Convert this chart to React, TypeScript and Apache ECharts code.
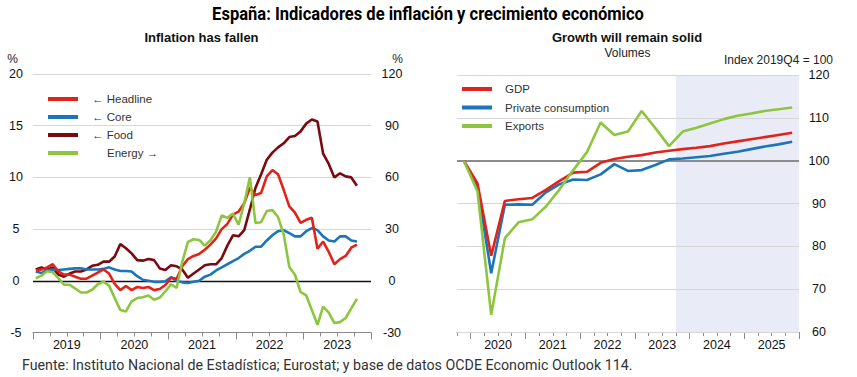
import React, { useEffect, useRef } from "react";
import * as echarts from "echarts";

// ---------- Left panel: inflation (monthly, Jan 2019 - Oct 2023) ----------
const inflationYears = ["2019", "2020", "2021", "2022", "2023"];
const headline = [
  1.0, 1.1, 1.3, 1.6, 0.9, 0.6, 0.6, 0.4, 0.2, 0.2, 0.5, 0.8,
  1.1, 0.7, -0.3, -0.9, -0.5, -0.9, -0.6, -0.7, -0.6, -0.9, -0.8, -0.4,
  0.3, 0.2, 1.4, 2.1, 2.4, 2.6, 3.0, 3.5, 4.1, 5.0, 5.5, 6.4,
  6.7, 7.5, 9.0, 8.3, 8.5, 10.1, 10.7, 10.3, 8.8, 7.2, 6.6, 5.6,
  5.9, 6.1, 3.1, 3.8, 2.8, 1.6, 2.1, 2.4, 3.2, 3.5,
];
const core = [
  0.9, 0.75, 1.05, 1.1, 1.05, 1.1, 1.15, 1.2, 1.2, 1.1, 1.1, 1.1,
  1.15, 1.3, 1.1, 0.95, 0.95, 0.9, 0.45, 0.1, 0.0, -0.1, -0.1, -0.05,
  0.35, 0.0, -0.15, -0.2, -0.1, 0.0, 0.4, 0.6, 1.0, 1.3, 1.6, 1.9,
  2.2, 2.6, 2.9, 3.3, 3.3, 3.9, 4.4, 4.8, 4.9, 4.6, 4.3, 4.3,
  4.8, 5.1, 4.9, 4.3, 3.9, 3.8, 4.3, 4.3, 3.9, 3.8,
];
const food = [
  1.1, 1.3, 1.1, 1.3, 0.6, 0.4, 0.7, 0.9, 0.9, 1.1, 1.45, 1.55,
  1.85, 1.85, 2.35, 3.55, 3.15, 2.65, 2.0, 1.95, 2.1, 2.0, 1.2, 1.05,
  1.5, 1.4, 1.1, 0.3, 0.7, 1.1, 1.5, 1.6, 1.6, 2.2, 3.4, 4.4,
  4.3, 4.9, 6.9, 9.0, 10.3, 11.7, 12.4, 12.9, 13.3, 13.9, 14.0, 14.45,
  15.2, 15.6, 15.4, 12.3, 11.3, 10.0, 10.4, 10.1, 10.0, 9.2,
];
const energy = [
  1.5, 3.0, 5.5, 5.0, 1.5, -2.3, -2.3, -4.5, -6.8, -6.8, -5.2, -2.0,
  -0.5, -2.8, -10, -17, -17.8, -12, -10, -9.5, -8.5, -11, -9.7, -6.2,
  -2.0, -4.2, 11, 22.5, 24.1, 23.7, 20.4, 23.5, 28.5, 38, 36.5, 39,
  32.5, 45, 60, 33.5, 34, 40.5, 41, 37, 27, 8, 3.5, -6.5,
  -8.5, -17, -25.5, -15, -18.5, -24.5, -24, -21.6, -16, -10.5,
];
const leftNames = ["← Headline", "← Core", "← Food", "Energy →"];

// ---------- Right panel: growth (quarterly, 2019Q4 - 2025Q4) ----------
const quarters = [
  "2019Q4",
  "2020Q1", "2020Q2", "2020Q3", "2020Q4",
  "2021Q1", "2021Q2", "2021Q3", "2021Q4",
  "2022Q1", "2022Q2", "2022Q3", "2022Q4",
  "2023Q1", "2023Q2", "2023Q3", "2023Q4",
  "2024Q1", "2024Q2", "2024Q3", "2024Q4",
  "2025Q1", "2025Q2", "2025Q3", "2025Q4",
];
const growthYears = ["2020", "2021", "2022", "2023", "2024", "2025"];
const gdp = [
  100, 94.7, 77.8, 90.6, 91.0, 91.3, 93.2, 95.3, 97.2, 97.4, 99.5, 100.4, 100.9,
  101.3, 101.9, 102.3, 102.7, 103.0, 103.4, 104.0, 104.5, 105.0, 105.5, 106.0, 106.5,
];
const privCons = [
  100, 93.9, 73.7, 89.7, 89.8, 89.7, 92.6, 94.5, 95.6, 95.5, 96.8, 99.2, 97.6,
  97.8, 99.0, 100.3, 100.5, 100.8, 101.1, 101.6, 102.1, 102.7, 103.3, 103.8, 104.4,
];
const exportsVol = [
  100, 92.8, 64.0, 81.9, 85.6, 86.3, 89.3, 93.3, 97.8, 102.0, 108.9, 106.0, 106.8,
  111.6, 107.6, 103.4, 106.8, 107.7, 108.7, 109.7, 110.5, 111.0, 111.6, 112.0, 112.4,
];
const forecastStart = "2023Q4";
const rightNames = ["GDP", "Private consumption", "Exports"];

const RED = "#e2231a";
const BLUE = "#1b75bc";
const DARKRED = "#7a0a0f";
const GREEN = "#8cc63f";
const FONT = "Liberation Sans, Arial, sans-serif";

const nMonths = inflationYears.length * 12;
const leftBounds = Array.from({ length: nMonths + 1 }, (_, k) => "b" + k);
const rightBounds = Array.from({ length: quarters.length + 1 }, (_, k) => "q" + k);

const pts = (arr: number[]) => arr.map((v, i) => [i + 0.5, v]);

function buildOption() {
  const lineSeries = (name: string, data: number[], color: string, xi: number, yi: number, z: number) => ({
    name,
    type: "line",
    xAxisIndex: xi,
    yAxisIndex: yi,
    data: pts(data),
    symbol: "none",
    z,
    lineStyle: { color, width: 2.6 },
    itemStyle: { color },
  });

  const labelStyle = { fontFamily: FONT, fontSize: 12.5, color: "#111" };
  const tickColor = "#8a8a8a";

  const xAxes: any[] = [
    {
      gridIndex: 0, type: "value", min: 0, max: nMonths, position: "bottom",
      axisLine: { show: true, onZero: false, lineStyle: { color: tickColor, width: 1 } },
      axisTick: { show: false }, axisLabel: { show: false }, splitLine: { show: false },
    },
    {
      gridIndex: 0, type: "category", data: leftBounds, boundaryGap: false, position: "bottom",
      axisLine: { show: false, onZero: false },
      axisTick: { show: true, interval: (i: number) => i % 3 === 0, length: 4, lineStyle: { color: tickColor } },
      axisLabel: { show: false }, splitLine: { show: false },
    },
    {
      gridIndex: 0, type: "category", data: leftBounds, boundaryGap: false, position: "bottom",
      axisLine: { show: false, onZero: false },
      axisTick: { show: true, interval: (i: number) => i % 12 === 0, length: 7, lineStyle: { color: tickColor } },
      axisLabel: {
        show: true, interval: (i: number) => i % 12 === 6, margin: 6, ...labelStyle,
        formatter: (_v: string, i: number) => inflationYears[(i - 6) / 12] ?? "",
      },
      splitLine: { show: false },
    },
    {
      gridIndex: 1, type: "value", min: 0, max: quarters.length, position: "bottom",
      axisLine: { show: true, onZero: false, lineStyle: { color: tickColor, width: 1 } },
      axisTick: { show: false }, axisLabel: { show: false }, splitLine: { show: false },
    },
    {
      gridIndex: 1, type: "category", data: rightBounds, boundaryGap: false, position: "bottom",
      axisLine: { show: false, onZero: false },
      axisTick: { show: true, interval: 0, length: 4, lineStyle: { color: tickColor } },
      axisLabel: { show: false }, splitLine: { show: false },
    },
    {
      gridIndex: 1, type: "category", data: rightBounds, boundaryGap: false, position: "bottom",
      axisLine: { show: false, onZero: false },
      axisTick: { show: true, interval: (i: number) => i % 4 === 1, length: 7, lineStyle: { color: tickColor } },
      axisLabel: {
        show: true, interval: (i: number) => i % 4 === 3, margin: 6, ...labelStyle,
        formatter: (_v: string, i: number) => growthYears[(i - 3) / 4] ?? "",
      },
      splitLine: { show: false },
    },
  ];

  const split = { show: true, lineStyle: { color: "#d6d6d6", width: 1 } };
  const yAxes: any[] = [
    {
      gridIndex: 0, type: "value", min: -5, max: 20, interval: 5, position: "left",
      axisLine: { show: false }, axisTick: { show: false },
      axisLabel: { margin: 17, align: "center", ...labelStyle }, splitLine: split,
    },
    {
      gridIndex: 0, type: "value", min: -30, max: 120, interval: 30, position: "right",
      axisLine: { show: false }, axisTick: { show: false },
      axisLabel: { margin: 21, align: "center", ...labelStyle }, splitLine: { show: false },
    },
    {
      gridIndex: 1, type: "value", min: 60, max: 120, interval: 10, position: "right", z: 2,
      axisLine: { show: false }, axisTick: { show: false },
      axisLabel: { margin: 20, align: "center", ...labelStyle }, splitLine: split,
    },
  ];

  const forecastIdx = quarters.indexOf(forecastStart);

  const series: any[] = [
    {
      ...lineSeries("← Food", food, DARKRED, 0, 0, 3),
      markLine: {
        silent: true, symbol: "none", label: { show: false }, z: 2,
        lineStyle: { color: "#111", width: 1.4, type: "solid" },
        data: [{ yAxis: 0 }],
      },
    },
    lineSeries("← Core", core, BLUE, 0, 0, 4),
    lineSeries("← Headline", headline, RED, 0, 0, 5),
    lineSeries("Energy →", energy, GREEN, 0, 1, 6),
    {
      ...lineSeries("Private consumption", privCons, BLUE, 3, 2, 4),
      markArea: {
        silent: true, z: 1,
        itemStyle: { color: "#e9ecf6" },
        data: [[{ xAxis: forecastIdx }, { xAxis: quarters.length }]],
      },
      markLine: {
        silent: true, symbol: "none", label: { show: false }, z: 3,
        lineStyle: { color: "#8c8c8c", width: 2, type: "solid" },
        data: [{ yAxis: 100 }],
      },
    },
    lineSeries("GDP", gdp, RED, 3, 2, 5),
    lineSeries("Exports", exportsVol, GREEN, 3, 2, 6),
  ];

  const legendText = (padA: number, padB: number) => ({
    fontFamily: FONT, fontSize: 11.5, color: "#333", lineHeight: 14,
    rich: { a: { width: padA }, b: { width: padB } },
  });

  return {
    animation: false,
    backgroundColor: "#ffffff",
    grid: [
      { left: 33, top: 74, width: 338, height: 258.5 },
      { left: 457, top: 75, width: 342, height: 257 },
    ],
    xAxis: xAxes,
    yAxis: yAxes,
    legend: [
      {
        data: leftNames, orient: "vertical", left: 48, top: 92, padding: 0, itemWidth: 30, itemHeight: 4,
        itemGap: 4, icon: "rect", selectedMode: false,
        textStyle: legendText(9, 24),
        formatter: (n: string) => (n.startsWith("←") ? "{a| }" : "{b| }") + n,
      },
      {
        data: rightNames, orient: "vertical", left: 462, top: 82, padding: 0, itemWidth: 30, itemHeight: 4,
        itemGap: 4.5, icon: "rect", selectedMode: false,
        textStyle: legendText(8, 8),
        formatter: (n: string) => "{a| }" + n,
      },
    ],
    graphic: [
      {
        type: "text", x: 428, y: 14, scaleX: 0.92,
        style: {
          text: "España: Indicadores de inflación y crecimiento económico",
          fontFamily: "Roboto", fontWeight: "bold", fontSize: 18, fill: "#000",
          align: "center", verticalAlign: "middle",
        },
      },
      {
        type: "text", x: 201.5, y: 37,
        style: { text: "Inflation has fallen", fontFamily: FONT, fontWeight: "bold", fontSize: 13, fill: "#111", align: "center", verticalAlign: "middle" },
      },
      {
        type: "text", x: 627, y: 37,
        style: { text: "Growth will remain solid", fontFamily: FONT, fontWeight: "bold", fontSize: 13, fill: "#111", align: "center", verticalAlign: "middle" },
      },
      {
        type: "text", x: 627.5, y: 53,
        style: { text: "Volumes", fontFamily: FONT, fontSize: 12, fill: "#222", align: "center", verticalAlign: "middle" },
      },
      {
        type: "text", x: 833, y: 60,
        style: { text: "Index 2019Q4 = 100", fontFamily: FONT, fontSize: 12, fill: "#222", align: "right", verticalAlign: "middle" },
      },
      {
        type: "text", x: 12.5, y: 59,
        style: { text: "%", fontFamily: FONT, fontSize: 12, fill: "#222", align: "center", verticalAlign: "middle" },
      },
      {
        type: "text", x: 397.5, y: 59,
        style: { text: "%", fontFamily: FONT, fontSize: 12, fill: "#222", align: "center", verticalAlign: "middle" },
      },
      {
        type: "text", x: 22, y: 365, scaleX: 0.95,
        style: {
          text: "Fuente: Instituto Nacional de Estadística; Eurostat; y base de datos OCDE Economic Outlook 114.",
          fontFamily: "Roboto", fontSize: 15, fill: "#333", align: "left", verticalAlign: "middle",
        },
      },
    ],
    series,
  };
}

export default function App() {
  const ref = useRef<HTMLDivElement>(null);
  useEffect(() => {
    if (!ref.current) return;
    const chart = echarts.init(ref.current, undefined, { renderer: "svg" });
    chart.setOption(buildOption() as any);
    return () => chart.dispose();
  }, []);
  return (
    <div
      ref={ref}
      style={{ position: "absolute", left: 0, top: 0, width: 857, height: 377, background: "#fff" }}
    />
  );
}
